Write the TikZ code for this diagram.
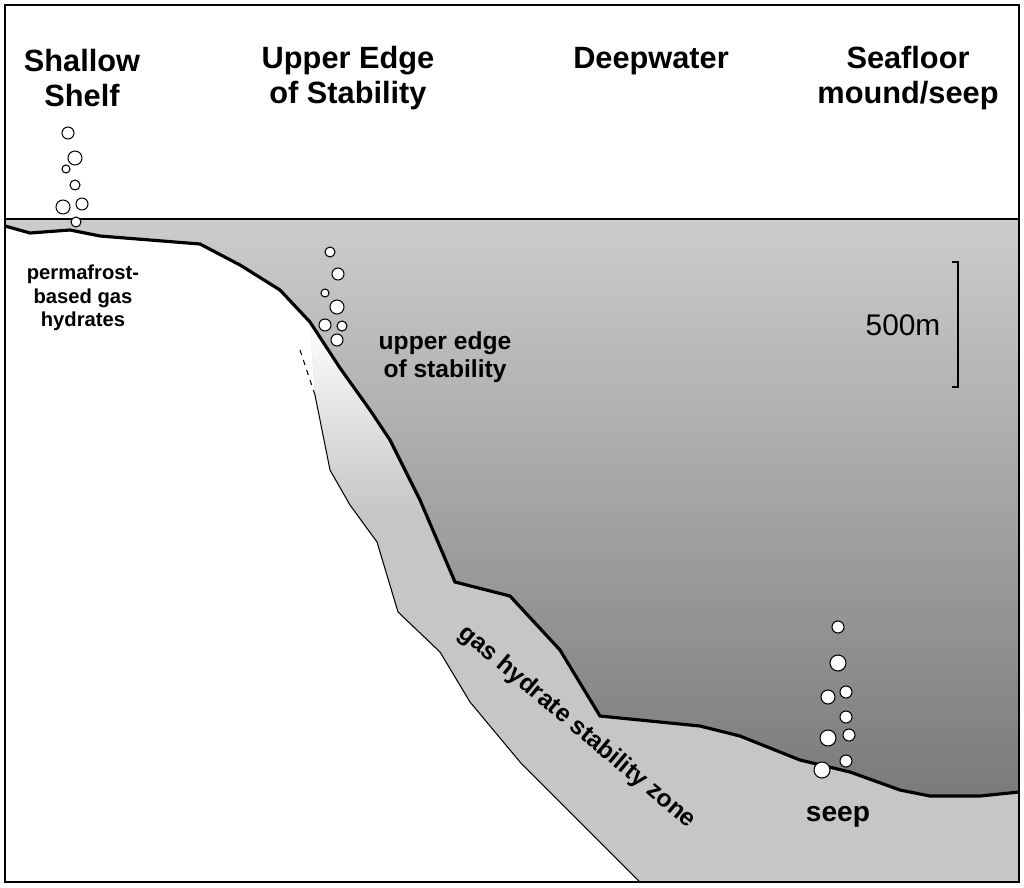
\documentclass[tikz,border=0pt]{standalone}
\usepackage{fontspec}
\setmainfont{Liberation Sans}
\begin{document}
\begin{tikzpicture}[x=0.02cm,y=-0.02cm,
  ttl/.style={font=\bfseries\fontsize{17.5}{20}\selectfont,align=center},
  lbl/.style={font=\bfseries\fontsize{14}{16}\selectfont,align=center},
  bub/.style={draw=black,fill=white,line width=0.6pt}]
\useasboundingbox (0,0) rectangle (1024,887);
\def\floor{(5,226) -- (30,233) -- (70,230) -- (100,236) -- (200,244) -- (240,265) -- (280,290) -- (310,322) -- (340,368) -- (370,410) -- (390,440) -- (420,500) -- (455,582) -- (510,596) -- (560,650) -- (600,716) -- (660,722) -- (700,726) -- (740,736) -- (800,760) -- (850,772) -- (900,790) -- (930,796) -- (980,796) -- (1019,792)}
\def\zone{(310,322) -- (340,368) -- (370,410) -- (390,440) -- (420,500) -- (455,582) -- (510,596) -- (560,650) -- (600,716) -- (660,722) -- (700,726) -- (740,736) -- (800,760) -- (850,772) -- (900,790) -- (930,796) -- (980,796) -- (1019,792) -- (1019,882) -- (640,882) -- (600,842) -- (560,802) -- (520,762) -- (470,702) -- (440,652) -- (398,612) -- (377,542) -- (350,505) -- (330,470) -- (315,395) -- cycle}
% GHSZ
\fill[gray!45] \zone;
\begin{scope}
\clip \zone;
\shade[top color=white,bottom color=gray!45] (290,320) rectangle (430,515);
\end{scope}
\draw[line width=0.6pt] (315,395) -- (330,470) -- (350,505) -- (377,542) -- (398,612) -- (440,652) -- (470,702) -- (520,762) -- (560,802) -- (600,842) -- (640,882);
\draw[dashed,line width=0.6pt] (300,350) -- (315,395);
% water
\shade[top color=gray!40,bottom color=gray!70!black!80] (5,219) -- \floor -- (1019,219) -- cycle;
\draw[line width=1.8pt] \floor;
\draw[line width=0.6pt] (5,219) -- (1019,219);
% scale bar
\draw[line width=0.6pt] (952,262) -- (958,262) -- (958,387) -- (952,387);
\node[font=\fontsize{17}{19}\selectfont] (sb) at (903,325) {500m};
% titles
\node[ttl] (t1) at (82,78) {Shallow\\Shelf};
\node[ttl] (t2) at (348,78) {Upper Edge\\of Stability};
\node[ttl] (t3) at (651,61) {Deepwater};
\node[ttl] (t4) at (908,78) {Seafloor\\mound/seep};
\node[font=\bfseries\fontsize{11.5}{13.5}\selectfont,align=center] (l1) at (83,298) {permafrost-\\based gas\\hydrates};
\node[lbl] (l2) at (445,357) {upper edge\\of stability};
\node[lbl,font=\bfseries\fontsize{16}{18}\selectfont] (l3) at (838,817) {seep};
\node[lbl,rotate=-40] (l4) at (577,727) {gas hydrate stability zone};
% bubbles
\foreach \x/\y/\r in {68/133/6,75/158/7,66/169/4,75/185/5,63/207/7,82/204/6,76/222/5,
 330/252/5,338/274/6,325/293/4,337/307/7,325/325/6,342/326/5,337/340/6,
 838/627/6,838/663/8,828/697/7,846/692/6,846/717/6,828/738/8,849/735/6,846/761/6,822/770/8}
  \draw[bub] (\x,\y) circle[radius=\r*0.02cm];
\draw[line width=1.5pt] (5,5) rectangle (1019,882);
\end{tikzpicture}
\end{document}
